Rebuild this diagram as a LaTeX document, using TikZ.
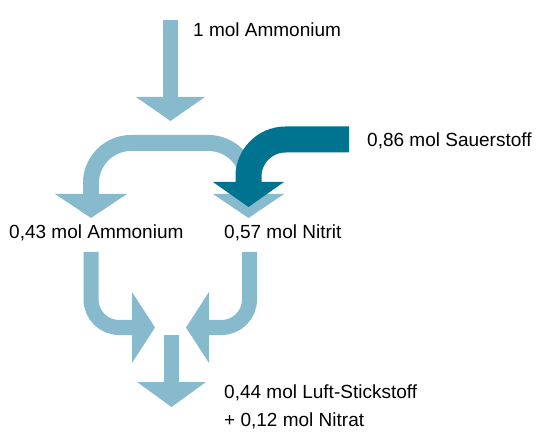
\documentclass[tikz,border=0pt]{standalone}
\usepackage{fontspec}
\setmainfont{Liberation Sans}
\definecolor{lightflow}{RGB}{135,186,205}
\definecolor{darkflow}{RGB}{0,115,145}
\tikzset{
  lband/.style={draw=lightflow,line width=#1,line cap=butt},
  dband/.style={draw=darkflow,line width=#1,line cap=butt},
  lhead/.style={fill=lightflow},
  dhead/.style={fill=darkflow},
  lbl/.style={anchor=base west,inner sep=0pt,font=\fontsize{19}{23}\selectfont,text=black}
}
\begin{document}
\begin{tikzpicture}[x=1pt,y=-1pt]
\useasboundingbox (0,0) rectangle (551,443);
% top arrow
\draw[lband=15] (170.5,20) -- (170.5,97.5);
\fill[lhead] (136,97) -- (205,97) -- (170.5,121) -- cycle;
% split
\draw[lband=16,rounded corners=40] (91,194.5) -- (91,143) -- (248.5,143) -- (248.5,194.5);
\fill[lhead] (55,194) -- (127,194) -- (91,218) -- cycle;
\fill[lhead] (213,194) -- (284,194) -- (248.5,218) -- cycle;
% oxygen
\draw[dband=26,rounded corners=37] (349,139.5) -- (248.5,139.5) -- (248.5,182.5);
\fill[dhead] (213,182) -- (284,182) -- (248.5,207) -- cycle;
% merge
\draw[lband=15,rounded corners=28] (91,252) -- (91,327.5) -- (132.5,327.5);
\fill[lhead] (132,292) -- (132,363) -- (155,327.5) -- cycle;
\draw[lband=15,rounded corners=28] (249.5,252) -- (249.5,327.5) -- (208.5,327.5);
\fill[lhead] (209,292) -- (209,363) -- (186,327.5) -- cycle;
% bottom arrow
\draw[lband=15] (171.5,335) -- (171.5,382.5);
\fill[lhead] (137,382) -- (206,382) -- (171.5,407) -- cycle;
% labels
\node[lbl] (amm1) at (193,37) {1 mol Ammonium};
\node[lbl] (oxy) at (367,147) {0,86 mol Sauerstoff};
\node[lbl] (amm2) at (9,239) {0,43 mol Ammonium};
\node[lbl] (nitrit) at (224,239) {0,57 mol Nitrit};
\node[lbl] (luft) at (224,398) {0,44 mol Luft-Stickstoff};
\node[lbl] (nitrat) at (224,426) {+ 0,12 mol Nitrat};
\end{tikzpicture}
\end{document}
